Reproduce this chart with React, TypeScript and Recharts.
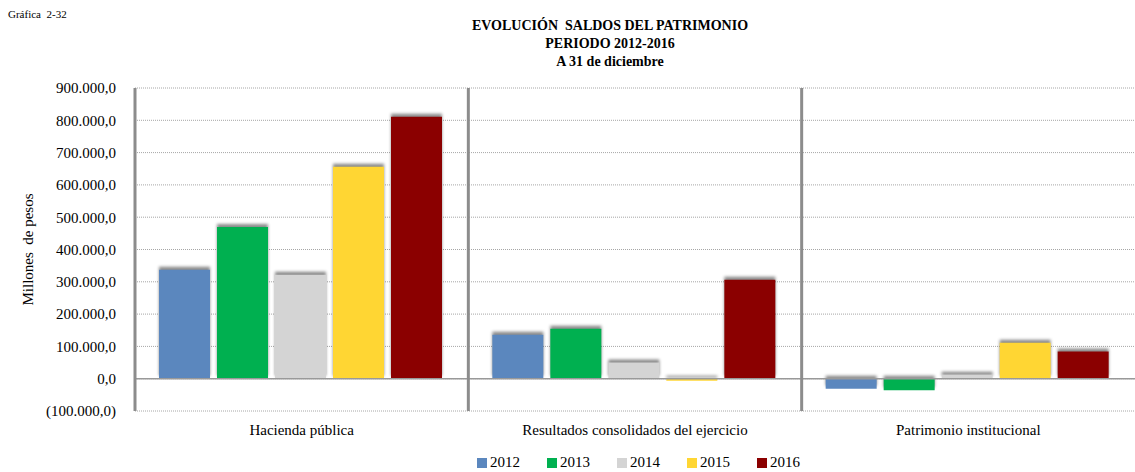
import React from "react";
import {
  Bar,
  BarChart,
  CartesianGrid,
  Legend,
  ReferenceLine,
  Rectangle,
  XAxis,
  YAxis,
} from "recharts";

const categories = [
  "Hacienda pública",
  "Resultados consolidados del ejercicio",
  "Patrimonio institucional",
];
const years = ["2012", "2013", "2014", "2015", "2016"];
const colors = ["#5b87be", "#00b050", "#d4d4d4", "#ffd633", "#8b0000"];

const v2012 = [337000, 136000, -31000];
const v2013 = [470000, 155000, -36000];
const v2014 = [322000, 50000, 12000];
const v2015 = [656000, -6000, 111000];
const v2016 = [811000, 306000, 84000];
const series = [v2012, v2013, v2014, v2015, v2016];

const yTicks = [
  -100000, 0, 100000, 200000, 300000, 400000, 500000, 600000, 700000,
  800000, 900000,
];

const data = categories.map((name, i) => {
  const row: Record<string, string | number> = { name };
  years.forEach((y, s) => {
    row[y] = series[s][i];
  });
  return row;
});

const FONT = "Liberation Serif, Tinos, DejaVu Serif, serif";

const fmt = (v: number) => {
  const abs = Math.abs(v)
    .toFixed(0)
    .replace(/\B(?=(\d{3})+(?!\d))/g, ".");
  const s = `${abs},0`;
  return v < 0 ? `(${s})` : s;
};

const ShadowBar = (props: any) => (
  <Rectangle
    {...props}
    style={{ filter: "drop-shadow(0px -3px 1.5px rgba(0,0,0,0.45))" }}
  />
);

const LegendContent = () => (
  <div
    style={{
      display: "flex",
      justifyContent: "center",
      gap: 27,
      fontFamily: FONT,
      fontSize: 15,
      color: "#000",
      paddingLeft: 142,
      paddingTop: 8,
    }}
  >
    {years.map((y, i) => (
      <span key={y} style={{ display: "flex", alignItems: "center" }}>
        <span
          style={{
            width: 10,
            height: 10,
            background: colors[i],
            display: "inline-block",
            marginRight: 3,
          }}
        />
        {y}
      </span>
    ))}
  </div>
);

export default function App() {
  return (
    <div
      style={{
        position: "absolute",
        left: 0,
        top: 0,
        width: 1135,
        height: 472,
        background: "#fff",
        fontFamily: FONT,
      }}
    >
      <div
        style={{
          position: "absolute",
          left: 8,
          top: 8,
          fontSize: 11,
          whiteSpace: "pre",
        }}
      >
        {"Gráfica  2-32"}
      </div>
      <div
        style={{
          position: "absolute",
          left: 410,
          width: 400,
          top: 17,
          textAlign: "center",
          fontWeight: "bold",
          fontSize: 14,
          lineHeight: "18px",
          whiteSpace: "pre",
        }}
      >
        {"EVOLUCIÓN  SALDOS DEL PATRIMONIO\nPERIODO 2012-2016\nA 31 de diciembre"}
      </div>
      <BarChart
        width={1135}
        height={472}
        data={data}
        margin={{ top: 88, right: 0, left: 0, bottom: 0 }}
        barCategoryGap={24}
        barGap={7}
      >
        <CartesianGrid
          vertical={false}
          stroke="#a6a6a6"
          strokeDasharray="1 1"
        />
        <XAxis
          dataKey="name"
          height={35}
          axisLine={false}
          tickLine={false}
          tickSize={0}
          tickMargin={13}
          tick={{ fontFamily: FONT, fontSize: 15, fill: "#000" }}
        />
        <YAxis
          width={135}
          domain={[-100000, 900000]}
          ticks={yTicks}
          interval={0}
          tickFormatter={fmt}
          axisLine={{ stroke: "#8c8c8c", strokeWidth: 3 }}
          tickLine={false}
          tickMargin={13}
          tick={{ fontFamily: FONT, fontSize: 15, fill: "#000" }}
          label={{
            value: "Millones \u00a0de pesos",
            angle: -90,
            position: "center",
            dx: -40,
            style: { fontFamily: FONT, fontSize: 15, fill: "#000" },
          }}
        />
        <Legend
          verticalAlign="bottom"
          height={26}
          wrapperStyle={{ left: 0, width: 1135 }}
          content={<LegendContent />}
        />
        {years.map((y, i) => (
          <Bar
            key={y}
            dataKey={y}
            fill={colors[i]}
            shape={ShadowBar}
            isAnimationActive={false}
          />
        ))}
        <ReferenceLine y={0} stroke="#999" strokeWidth={1.5} />
        {categories.slice(1).map((c) => (
          <ReferenceLine
            key={c}
            x={c}
            position="start"
            stroke="#8c8c8c"
            strokeWidth={3}
          />
        ))}
      </BarChart>
    </div>
  );
}
